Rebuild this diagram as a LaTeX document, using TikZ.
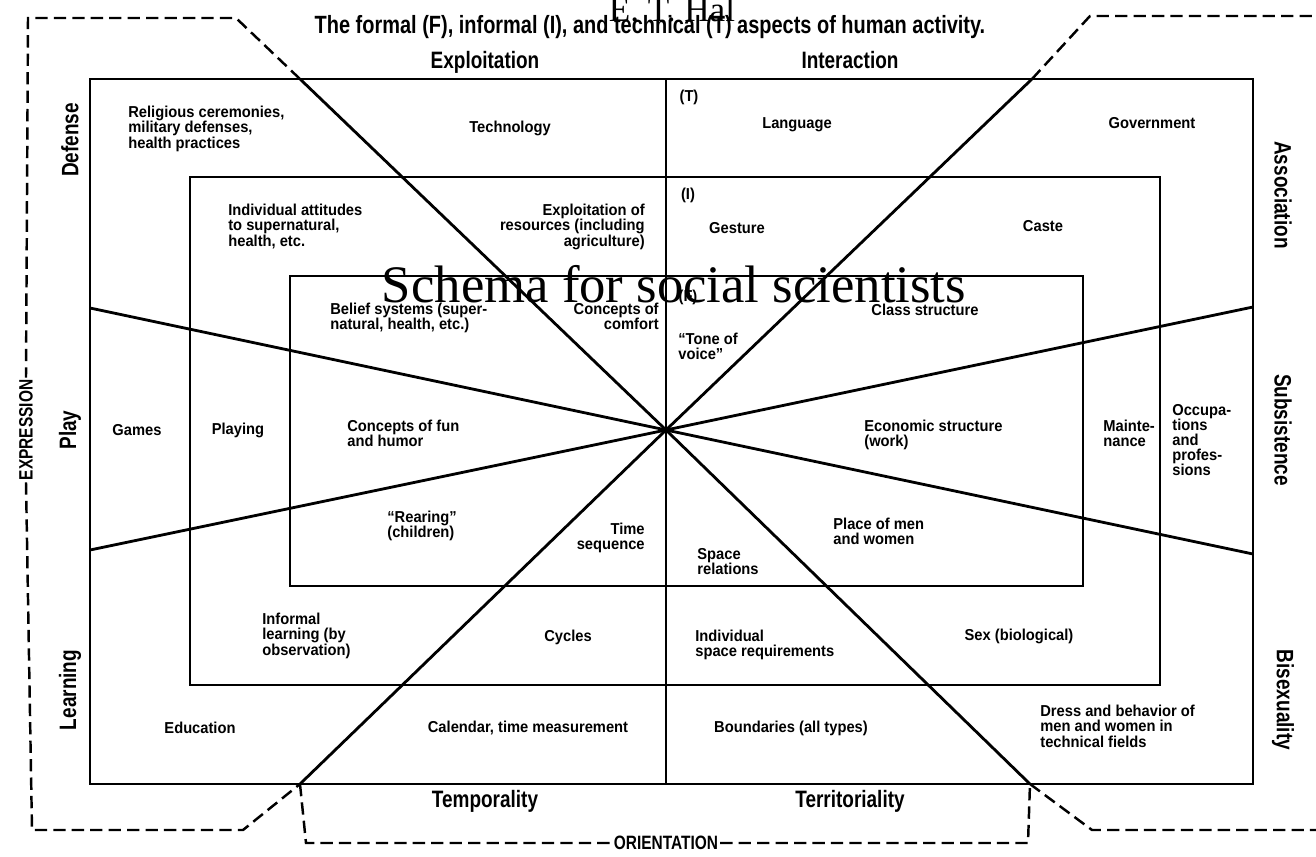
\documentclass[tikz,border=0pt]{standalone}
\usepackage{fontspec}
\setmainfont{Liberation Sans}[FakeStretch=0.8]
\newfontfamily\cellfont{Liberation Sans}[FakeStretch=0.93, Ligatures=TeX]
\newfontfamily\overlayfont{Liberation Serif}
\tikzset{
  grid/.style={line width=1.6pt},
  bracket/.style={line width=1.4pt, dash pattern=on 7pt off 3.5pt},
  cell/.style={font=\cellfont\bfseries\fontsize{9}{8.6}\selectfont, align=left, inner sep=0pt},
  rcell/.style={cell, align=right, anchor=north east},
  lcell/.style={cell, anchor=north west},
  axis/.style={font=\bfseries\fontsize{13.5}{15}\selectfont, inner sep=0pt},
  sideaxis/.style={font=\bfseries\fontsize{11}{13}\selectfont, inner sep=1pt},
  overlay/.style={font=\overlayfont, inner sep=0pt},
}
\begin{document}
\begin{tikzpicture}[x=0.02cm, y=-0.02cm]
    \useasboundingbox (0,0) rectangle (1316,856);
    \coordinate (hub) at (666,430);

    % T, I and F frames
    \draw[grid] (90,79) rectangle (1253,784);
    \draw[grid] (190,177) rectangle (1160,685);
    \draw[grid] (290,276) rectangle (1083,586);
    \draw[grid] (666,79) -- (666,784);

    % rays through the hub
    \coordinate (tl) at (300,79);
    \coordinate (tr) at (1032,79);
    \coordinate (bl) at (300,784);
    \coordinate (br) at (1030,784);
    \draw[grid] (tl) -- (hub) -- (br);
    \draw[grid] (tr) -- (hub) -- (bl);
    \draw[grid] (90,308) -- (hub) -- (1253,554);
    \draw[grid] (90,550) -- (hub) -- (1253,307);

    % outer labels
    \node[sideaxis, rotate=90] (expr) at (26,430) {EXPRESSION};
    \node[sideaxis] (orient) at (666,843) {ORIENTATION};

    % dashed brackets
    \draw[bracket] (tl) -- (236,18) -- (28,18) -- (expr.east);
    \draw[bracket] (expr.west) -- (32,830) -- (243,830) -- (bl);
    \draw[bracket] (bl) -- (306,843) -- (orient.west);
    \draw[bracket] (orient.east) -- (1028,843) -- (br);
    \draw[bracket] (br) -- (1092,830) -- (1316,830);
    \draw[bracket] (tr) -- (1090,16) -- (1316,16);

    % title
    \node[font=\bfseries\fontsize{14.2}{16}\selectfont, inner sep=0pt] (title) at (650,27)
        {The formal (F), informal (I), and technical (T) aspects of human activity.};

    % axis labels
    \node[axis] (exploit) at (485,62) {Exploitation};
    \node[axis] (interact) at (850,60) {Interaction};
    \node[axis] (temporal) at (485,801) {Temporality};
    \node[axis] (territ) at (850,801) {Territoriality};
    \node[axis, rotate=90] (defense) at (70,140) {Defense};
    \node[axis, rotate=90] (play) at (70,430) {Play};
    \node[axis, rotate=90] (learning) at (70,690) {Learning};
    \node[axis, rotate=-90] (assoc) at (1283,195) {Association};
    \node[axis, rotate=-90] (subsist) at (1283,430) {Subsistence};
    \node[axis, rotate=-90] (bisex) at (1283,700) {Bisexuality};

    % technical (T) cells
    \node[cell] (tmark) at (689,97) {(T)};
    \node[lcell] (religious) at (128,106) {Religious ceremonies,\\military defenses,\\health practices};
    \node[cell] (technology) at (510,128) {Technology};
    \node[cell] (language) at (797,125) {Language};
    \node[cell] (government) at (1152,123) {Government};
    \node[cell] (games) at (137,430) {Games};
    \node[lcell] (occupations) at (1172,404) {Occupa-\\tions\\and\\profes-\\sions};
    \node[cell] (education) at (200,728) {Education};
    \node[cell] (calendar) at (528,728) {Calendar, time measurement};
    \node[cell] (boundaries) at (791,728) {Boundaries (all types)};
    \node[lcell] (dress) at (1040,705) {Dress and behavior of\\men and women in\\technical fields};

    % informal (I) cells
    \node[cell] (imark) at (688,195) {(I)};
    \node[lcell] (attitudes) at (228,204) {Individual attitudes\\to supernatural,\\health, etc.};
    \node[rcell] (resources) at (645,204) {Exploitation of\\resources (including\\agriculture)};
    \node[cell] (gesture) at (737,228) {Gesture};
    \node[cell] (caste) at (1043,226) {Caste};
    \node[cell] (playing) at (238,430) {Playing};
    \node[lcell] (maintenance) at (1103,420) {Mainte-\\nance};
    \node[lcell] (informal) at (262,613) {Informal\\learning (by\\observation)};
    \node[cell] (cycles) at (568,637) {Cycles};
    \node[lcell] (individual) at (695,630) {Individual\\space requirements};
    \node[cell] (sex) at (1019,636) {Sex (biological)};

    % formal (F) cells
    \node[cell] (fmark) at (688,297) {(F)};
    \node[lcell] (belief) at (330,303) {Belief systems (super-\\natural, health, etc.)};
    \node[rcell] (comfort) at (659,303) {Concepts of\\comfort};
    \node[lcell] (tone) at (678,333) {``Tone of\\voice''};
    \node[cell] (class) at (925,310) {Class structure};
    \node[lcell] (fun) at (347,420) {Concepts of fun\\and humor};
    \node[lcell] (economic) at (864,420) {Economic structure\\(work)};
    \node[lcell] (rearing) at (387,511) {``Rearing''\\(children)};
    \node[rcell] (timeseq) at (645,523) {Time\\sequence};
    \node[lcell] (space) at (697,548) {Space\\relations};
    \node[lcell] (place) at (833,518) {Place of men\\and women};

    % overlaid captions
    \node[overlay, font=\overlayfont\fontsize{20}{22}\selectfont, anchor=base] (author) at (672,21) {E. T. Hal};
    \node[overlay, font=\overlayfont\fontsize{30}{32}\selectfont, anchor=base] (schema) at (674,302) {Schema for social scientists};
\end{tikzpicture}
\end{document}
